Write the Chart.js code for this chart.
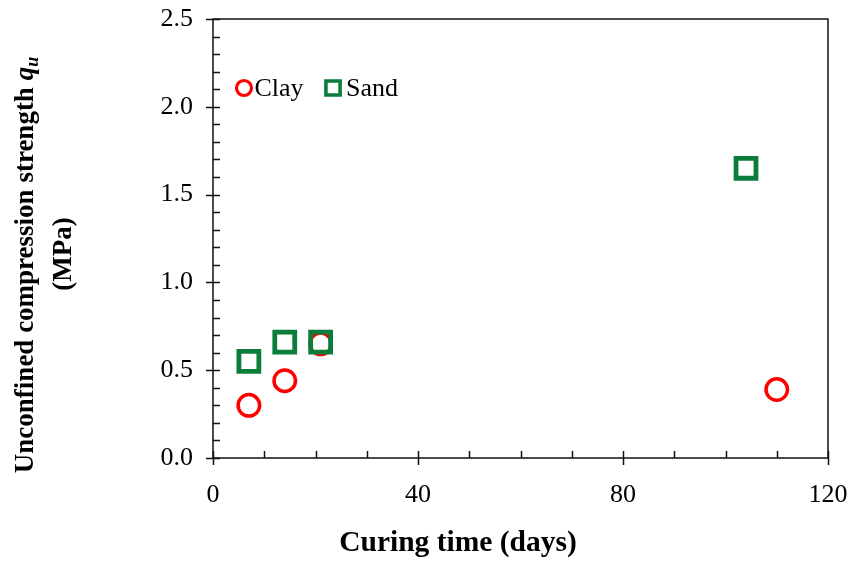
<!DOCTYPE html>
<html>
<head>
<meta charset="utf-8">
<title>Curing time vs unconfined compression strength</title>
<script src="https://cdn.jsdelivr.net/npm/chart.js@4/dist/chart.umd.min.js"></script>
<style>
  html, body { margin: 0; padding: 0; background: #fff; }
</style>
</head>
<body>
<canvas id="qu-chart" width="851" height="561"></canvas>
<script>
// ── Data ───────────────────────────────────────────────────
const clayDays = [7, 14, 21, 110];
const clayQu   = [0.30, 0.44, 0.65, 0.39];
const sandDays = [7, 14, 21, 104];
const sandQu   = [0.55, 0.66, 0.66, 1.65];

const xTicks = [0, 40, 80, 120];
const yTicks = [0, 0.5, 1.0, 1.5, 2.0, 2.5];
const xMinorStep = 10;
const yMinorStep = 0.1;

const SERIF = '"Liberation Serif", "Times New Roman", serif';
const RED   = '#ff0000';
const GREEN = '#0b7d3b';

// frame round the plot + Excel-style ticks (major cross the axis, minor point inwards)
const axisFrame = {
  id: 'axisFrame',
  beforeDatasetsDraw(chart) {
    const { ctx, chartArea: a, scales: { x, y } } = chart;
    ctx.save();
    ctx.strokeStyle = '#111';
    ctx.lineWidth = 1.5;
    ctx.strokeRect(a.left, a.top, a.right - a.left, a.bottom - a.top);
    ctx.beginPath();
    for (let v = x.min; v <= x.max + 1e-9; v += xMinorStep) {
      const px = Math.round(x.getPixelForValue(v)) + 0.5;
      const major = xTicks.includes(Math.round(v));
      ctx.moveTo(px, a.bottom + (major ? 7 : 0));
      ctx.lineTo(px, a.bottom - 7);
    }
    for (let v = y.min; v <= y.max + 1e-9; v += yMinorStep) {
      const py = Math.round(y.getPixelForValue(v)) + 0.5;
      const major = yTicks.some(t => Math.abs(t - v) < 1e-6);
      ctx.moveTo(a.left - (major ? 7 : 0), py);
      ctx.lineTo(a.left + 7, py);
    }
    ctx.stroke();
    ctx.restore();
  }
};

// axis titles: x title sits left of the plot centre; y title has italic q with subscript u
const axisTitles = {
  id: 'axisTitles',
  afterDraw(chart) {
    const { ctx } = chart;
    ctx.save();
    ctx.fillStyle = '#000';

    ctx.font = `bold 29.5px ${SERIF}`;
    ctx.textAlign = 'center';
    ctx.textBaseline = 'middle';
    ctx.fillText('Curing time (days)', 458, 543);

    const main = 'Unconfined compression strength ';
    ctx.translate(33, 265);
    ctx.rotate(-Math.PI / 2);
    ctx.textBaseline = 'alphabetic';
    ctx.textAlign = 'left';

    ctx.font = `bold 27px ${SERIF}`;
    const w1 = ctx.measureText(main).width;
    ctx.font = `italic bold 27px ${SERIF}`;
    const wq = ctx.measureText('q').width;
    ctx.font = `italic bold 18px ${SERIF}`;
    const wu = ctx.measureText('u').width;

    let cx = -(w1 + wq + wu) / 2;
    ctx.font = `bold 27px ${SERIF}`;
    ctx.fillText(main, cx, 0);
    cx += w1;
    ctx.font = `italic bold 27px ${SERIF}`;
    ctx.fillText('q', cx, 0);
    cx += wq;
    ctx.font = `italic bold 18px ${SERIF}`;
    ctx.fillText('u', cx, 5);

    ctx.font = `bold 27px ${SERIF}`;
    ctx.textAlign = 'center';
    ctx.fillText('(MPa)', 11, 38);
    ctx.restore();
  }
};

// legend sits inside the plot, top-left
const innerLegend = {
  id: 'innerLegend',
  afterDraw(chart) {
    const { ctx, chartArea: a } = chart;
    const items = [
      { ds: chart.data.datasets[0], dx: 31, radius: 7.5, bw: 3.2 },
      { ds: chart.data.datasets[1], dx: 120, radius: 10, bw: 3.6 }
    ];
    const cy = a.top + 69;
    ctx.save();
    items.forEach(it => {
      const mx = a.left + it.dx;
      ctx.strokeStyle = it.ds.borderColor;
      ctx.fillStyle = 'rgba(0,0,0,0)';
      ctx.lineWidth = it.bw;
      Chart.helpers.drawPoint(ctx, {
        pointStyle: it.ds.pointStyle, radius: it.radius, borderWidth: it.bw, rotation: 0
      }, mx, cy);
      ctx.fillStyle = '#000';
      ctx.font = `26px ${SERIF}`;
      ctx.textAlign = 'left';
      ctx.textBaseline = 'middle';
      ctx.fillText(it.ds.label, mx + it.radius + 3, cy + 1);
    });
    ctx.restore();
  }
};

const ctx = document.getElementById('qu-chart').getContext('2d');
new Chart(ctx, {
  type: 'scatter',
  data: {
    datasets: [
      {
        label: 'Clay',
        data: clayDays.map((d, i) => ({ x: d, y: clayQu[i] })),
        pointStyle: 'circle',
        pointRadius: 10.75,
        pointHoverRadius: 10.75,
        borderWidth: 3.5,
        borderColor: RED,
        backgroundColor: 'rgba(0,0,0,0)',
        order: 1
      },
      {
        label: 'Sand',
        data: sandDays.map((d, i) => ({ x: d, y: sandQu[i] })),
        pointStyle: 'rect',
        pointRadius: 14.1,
        pointHoverRadius: 14.1,
        borderWidth: 4.8,
        borderColor: GREEN,
        backgroundColor: 'rgba(0,0,0,0)',
        order: 0
      }
    ]
  },
  options: {
    responsive: false,
    animation: false,
    layout: { padding: { top: 19, right: 23, left: 0, bottom: 0 } },
    plugins: {
      legend: { display: false },
      tooltip: { enabled: false }
    },
    scales: {
      x: {
        type: 'linear',
        min: 0, max: 120,
        afterBuildTicks: s => { s.ticks = xTicks.map(v => ({ value: v })); },
        afterFit: s => { s.height = 103; s.paddingLeft = 0; s.paddingRight = 0; },
        grid: { display: false, drawTicks: false },
        border: { display: false },
        ticks: {
          color: '#000', padding: 22, maxRotation: 0,
          font: { family: SERIF, size: 26 }
        }
      },
      y: {
        type: 'linear',
        min: 0, max: 2.5,
        afterBuildTicks: s => { s.ticks = yTicks.map(v => ({ value: v })); },
        afterFit: s => { s.width = 213; s.paddingTop = 0; s.paddingBottom = 0; },
        grid: { display: false, drawTicks: false },
        border: { display: false },
        ticks: {
          color: '#000', padding: 20,
          font: { family: SERIF, size: 26 },
          callback: v => Number(v).toFixed(1)
        }
      }
    }
  },
  plugins: [axisFrame, axisTitles, innerLegend]
});
</script>
</body>
</html>
